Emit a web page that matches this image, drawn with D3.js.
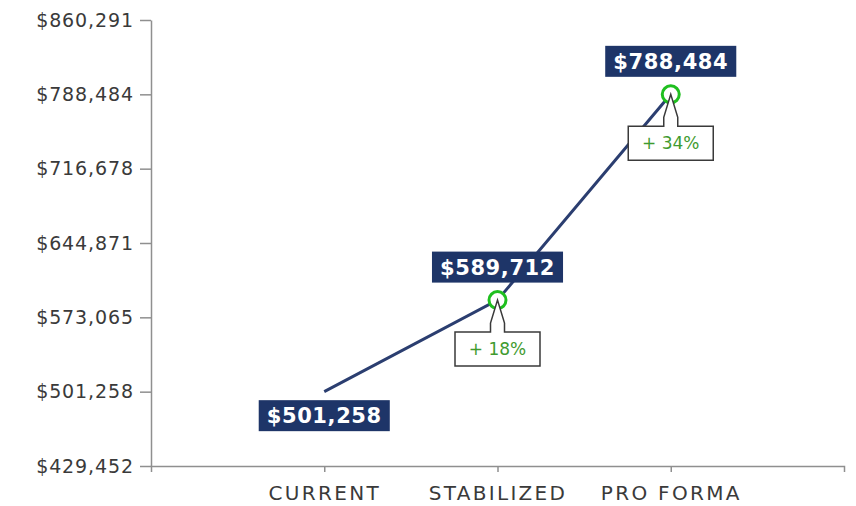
<!DOCTYPE html>
<html>
<head>
<meta charset="utf-8">
<script src="https://cdn.jsdelivr.net/npm/d3@7"></script>
<style>
  html, body { margin: 0; padding: 0; background: #fff; }
  svg { display: block; }
</style>
</head>
<body>
<svg id="chart" width="856" height="506"></svg>
<script>
// ---- data ----
const categories = ["CURRENT", "STABILIZED", "PRO FORMA"];
const values = [501258, 589712, 788484];
const changeLabels = [null, "+ 18%", "+ 34%"];
const yTickValues = [429452, 501258, 573065, 644871, 716678, 788484, 860291];
const yDomain = [429452, 860291];

// ---- layout ----
const plotLeft = 151, plotRight = 844, plotTop = 20, plotBottom = 466;
const navy = "#1e3568";
const lineColor = "#2b3e70";
const axisColor = "#8f8f8f";
const textColor = "#3a3a3a";

const svg = d3.select("#chart");

const x = d3.scaleLinear().domain([0, categories.length + 1]).range([plotLeft, plotRight]);
const y = d3.scaleLinear().domain(yDomain).range([plotBottom, plotTop]);

const fmt = v => "$" + d3.format(",")(v);

// y axis
const yAxis = d3.axisLeft(y).tickValues(yTickValues).tickFormat(fmt)
  .tickSize(11).tickPadding(6).tickSizeOuter(0);
const gy = svg.append("g").attr("transform", `translate(${plotLeft},0)`).call(yAxis);
gy.selectAll("path, line").attr("stroke", axisColor).attr("stroke-width", 1.5);
gy.selectAll("text").attr("fill", textColor)
  .style("font-family", "'DejaVu Sans', sans-serif").style("font-size", "19px")
  .style("letter-spacing", "0.9px");

// x axis
const xAxis = d3.axisBottom(x).tickValues(categories.map((c, i) => i + 1))
  .tickFormat(i => categories[i - 1]).tickSize(6).tickSizeOuter(6).tickPadding(14);
const gx = svg.append("g").attr("transform", `translate(0,${plotBottom})`).call(xAxis);
gx.selectAll("path, line").attr("stroke", axisColor).attr("stroke-width", 1.5);
gx.selectAll("text").attr("fill", textColor)
  .style("font-family", "'DejaVu Sans', sans-serif").style("font-size", "20px")
  .style("letter-spacing", "2.3px");

const pts = values.map((v, i) => ({ x: x(i + 1), y: y(v), v, i }));

// line
svg.append("path")
  .datum(pts)
  .attr("d", d3.line().x(d => d.x).y(d => d.y))
  .attr("fill", "none")
  .attr("stroke", lineColor)
  .attr("stroke-width", 3);

// markers (for points with change)
const ch = pts.filter(d => changeLabels[d.i]);
svg.selectAll("circle.mk").data(ch).enter().append("circle")
  .attr("class", "mk")
  .attr("cx", d => d.x).attr("cy", d => d.y).attr("r", 8.5)
  .attr("fill", "#fff").attr("stroke", "#1fbf1f").attr("stroke-width", 3);

// callouts
const bw = 85, bh = 34, gap = 32, pw = 7, sh = 9;
const callouts = svg.selectAll("g.callout").data(ch).enter().append("g").attr("class", "callout");
callouts.append("path")
  .attr("d", d => {
    const t = d.y + gap, b = t + bh, l = d.x - bw / 2, r = d.x + bw / 2;
    return `M${l},${t} L${d.x - pw},${t} L${d.x - pw},${t - sh} L${d.x},${d.y} L${d.x + pw},${t - sh} L${d.x + pw},${t} L${r},${t} L${r},${b} L${l},${b} Z`;
  })
  .attr("fill", "#fff").attr("stroke", "#3a3a3a").attr("stroke-width", 1.5)
  .attr("stroke-linejoin", "miter");
callouts.append("text")
  .attr("x", d => d.x).attr("y", d => d.y + gap + bh / 2)
  .attr("dy", "0.36em")
  .attr("text-anchor", "middle")
  .attr("fill", "#3f9b2f")
  .style("font-family", "'DejaVu Sans', sans-serif").style("font-size", "17px")
  .text(d => changeLabels[d.i]);

// value labels
const labels = svg.selectAll("g.vlab").data(pts).enter().append("g").attr("class", "vlab");
labels.each(function(d) {
  const g = d3.select(this);
  const cy = d.i === 0 ? d.y + 24 : d.y - 33;
  const rect = g.append("rect");
  const t = g.append("text")
    .attr("x", d.x).attr("y", cy).attr("dy", "0.36em")
    .attr("text-anchor", "middle")
    .attr("fill", "#fff")
    .style("font-family", "'DejaVu Sans', sans-serif").style("font-size", "21px")
    .style("font-weight", "bold").style("letter-spacing", "0.6px")
    .text(fmt(d.v));
  const w = t.node().getComputedTextLength() + 16;
  rect.attr("x", d.x - w / 2).attr("y", cy - 15.5).attr("width", w).attr("height", 31)
    .attr("fill", navy);
});
</script>
</body>
</html>
